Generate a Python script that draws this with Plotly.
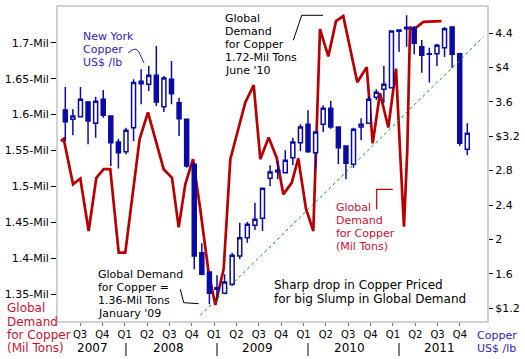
import plotly.graph_objects as go

# ---------------- data ----------------
# Monthly New York copper candles (US$/lb), index 0 = May 2007
candle_month = list(range(54))
candle_open = [3.505, 3.396, 3.427, 3.598, 3.350, 3.629, 3.435, 3.133, 3.020, 3.299,
               3.811, 3.803, 3.908, 3.543, 3.861, 3.590, 3.396, 2.873, 1.846, 1.621,
               1.439, 1.373, 1.478, 1.807, 2.020, 2.164, 2.245, 2.710, 2.803, 2.776,
               2.950, 3.125, 3.338, 3.009, 3.338, 3.524, 3.307, 3.086, 2.873, 3.307,
               3.350, 3.652, 3.745, 3.764, 4.419, 4.450, 4.462, 4.241, 4.152, 4.160,
               4.229, 4.470, 4.160, 3.047]
candle_high = [3.772, 3.512, 3.772, 3.609, 3.660, 3.737, 3.440, 3.171, 3.299, 3.861,
               3.978, 4.016, 4.249, 3.900, 4.074, 3.648, 3.400, 2.892, 1.954, 1.625,
               1.582, 1.594, 1.846, 2.195, 2.202, 2.427, 2.602, 2.861, 2.912, 3.036,
               3.183, 3.338, 3.501, 3.261, 3.559, 3.609, 3.310, 3.090, 3.299, 3.408,
               3.667, 3.745, 4.016, 4.431, 4.443, 4.605, 4.481, 4.319, 4.229, 4.276,
               4.470, 4.474, 4.171, 3.350]
candle_low = [3.144, 3.210, 3.420, 3.106, 3.183, 3.416, 2.854, 2.823, 2.989, 3.144,
              3.571, 3.726, 3.551, 3.481, 3.571, 3.202, 2.834, 1.652, 1.582, 1.245,
              1.303, 1.361, 1.458, 1.768, 1.962, 2.109, 2.098, 2.621, 2.698, 2.770,
              2.861, 3.028, 3.009, 2.823, 3.249, 3.288, 2.873, 2.698, 2.834, 3.152,
              3.346, 3.621, 3.590, 3.757, 4.183, 4.241, 4.152, 3.939, 3.823, 4.016,
              4.121, 3.997, 3.086, 2.978]
candle_close = [3.369, 3.435, 3.629, 3.377, 3.605, 3.443, 3.125, 3.009, 3.268, 3.823,
                3.838, 3.908, 3.598, 3.877, 3.695, 3.404, 2.854, 1.807, 1.594, 1.373,
                1.419, 1.505, 1.815, 2.020, 2.175, 2.233, 2.594, 2.784, 2.788, 2.919,
                3.133, 3.307, 3.020, 3.249, 3.524, 3.307, 3.067, 2.885, 3.280, 3.338,
                3.629, 3.710, 3.803, 4.423, 4.435, 4.466, 4.280, 4.140, 4.160, 4.257,
                4.450, 4.152, 3.117, 3.233]

# Global demand for copper (million tons)
demand_month = [-0.57, -0.21, 1.02, 1.98, 3.08, 4.09, 5.06, 5.93, 7.04, 7.91,
                9.8, 10.9, 12.97, 14.07, 14.95, 15.82, 16.84, 17.8, 18.9, 19.78,
                20.88, 21.76, 23.73, 24.84, 25.71, 26.81, 27.87, 28.74, 29.85, 30.72,
                31.73, 32.7, 33.58, 34.68, 35.69, 36.65, 38.5, 39.74, 40.53, 41.49,
                42.59, 43.6, 44.13, 44.65, 45.09, 45.45, 45.89, 47.2, 49.6]
demand_mil = [1.563, 1.566, 1.503, 1.511, 1.438, 1.512, 1.524, 1.524, 1.408, 1.408,
              1.566, 1.603, 1.524, 1.512, 1.443, 1.503, 1.538, 1.468, 1.380, 1.335,
              1.385, 1.538, 1.617, 1.641, 1.538, 1.568, 1.540, 1.489, 1.505, 1.539,
              1.469, 1.438, 1.719, 1.681, 1.730, 1.737, 1.645, 1.666, 1.560, 1.630,
              1.582, 1.664, 1.551, 1.444, 1.551, 1.722, 1.718, 1.729, 1.730]

# Trend line on copper price
trend_month = [17.8, 55.11]
trend_price = [1.117, 4.353]

# Axis labels
quarter_labels = ["Q3", "Q4", "Q1", "Q2", "Q3", "Q4", "Q1", "Q2", "Q3", "Q4",
                  "Q1", "Q2", "Q3", "Q4", "Q1", "Q2", "Q3", "Q4"]
year_labels = ["2007", "2008", "2009", "2010", "2011"]
year_label_pos = [3.52, 13.54, 25.4, 37.53, 49.4]
year_breaks = [8, 20, 32, 44]
left_ticks = [1.35, 1.4, 1.45, 1.5, 1.55, 1.6, 1.65, 1.7]
left_ticktext = ["1.35-Mil", "1.4-Mil", "1.45-Mil", "1.5-Mil", "1.55-Mil", "1.6-Mil", "1.65-Mil", "1.7-Mil"]
right_ticks = [1.2, 1.6, 2.0, 2.4, 2.8, 3.2, 3.6, 4.0, 4.4]
right_ticktext = ["$1.2", "1.6", "2", "2.4", "2.8", "$3.2", "3.6", "$4", "4.4"]

# ---------------- figure ----------------
W, H = 525, 359
L, R, T, B = 57, 37, 6, 37
PW, PH = W - L - R, H - T - B

def px(xp):
    return (xp - L) / PW

def py(yp):
    return (H - B - yp) / PH

FONT = "DejaVu Sans"
BLUE = "#0a0aa6"
RED = "#b80000"
LBLUE = "#3322bb"
LRED = "#cc1133"

fig = go.Figure()

fig.add_trace(go.Scatter(x=trend_month, y=trend_price, yaxis="y2", mode="lines",
                         line=dict(color="#119911", width=1, dash="dot"),
                         hoverinfo="skip", showlegend=False))

fig.add_trace(go.Candlestick(x=candle_month, open=candle_open, high=candle_high,
                             low=candle_low, close=candle_close, yaxis="y2",
                             increasing=dict(line=dict(color=BLUE, width=1.5), fillcolor="white"),
                             decreasing=dict(line=dict(color=BLUE, width=1.5), fillcolor=BLUE),
                             whiskerwidth=0, hoverinfo="skip", showlegend=False))

fig.add_trace(go.Scatter(x=demand_month, y=demand_mil, yaxis="y", mode="lines",
                         line=dict(color=RED, width=2.7), hoverinfo="skip", showlegend=False))

q0, qstep = 1.938, 2.9466
quarter_pos = [q0 + k * qstep for k in range(len(quarter_labels))]

fig.update_layout(
    width=W, height=H, autosize=False,
    margin=dict(l=L, r=R, t=T, b=B, pad=0, autoexpand=False),
    paper_bgcolor="white", plot_bgcolor="white",
    font=dict(family=FONT, size=11, color="black"),
    showlegend=False,
    boxgap=0.25,
    xaxis=dict(range=[-1.094, 55.73], tickmode="array", tickvals=quarter_pos,
               ticktext=quarter_labels, ticks="outside", ticklen=3, tickcolor="#777",
               tickfont=dict(size=10, color="black"), showgrid=False, zeroline=False,
               showline=False, rangeslider=dict(visible=False), fixedrange=True,
               automargin=False),
    yaxis=dict(range=[1.3114, 1.7511], tickmode="array", tickvals=left_ticks,
               ticktext=left_ticktext, ticks="outside", ticklen=5, tickcolor="black",
               tickfont=dict(size=11, color="black"), showgrid=False, zeroline=False,
               showline=False, automargin=False),
    yaxis2=dict(range=[1.0395, 4.714], overlaying="y", side="right", tickmode="array",
                tickvals=right_ticks, ticktext=right_ticktext, ticks="outside", ticklen=4,
                tickcolor="black", tickfont=dict(size=11, color="black"), showgrid=False,
                zeroline=False, showline=False, automargin=False),
)

# plot frame
fig.add_shape(type="rect", xref="paper", yref="paper", x0=0, x1=1, y0=0, y1=1,
              line=dict(color="#c4c4c4", width=1.5), layer="below")

def block(lines, x_px, y_px, color, size=11, step=13):
    for j, t in enumerate(lines):
        fig.add_annotation(x=px(x_px), y=py(y_px + j * step), xref="paper", yref="paper",
                           text=t, showarrow=False, xanchor="left", yanchor="middle",
                           font=dict(family=FONT, size=size, color=color))

def poly(points, color, width=1):
    d = "M " + " L ".join(f"{px(a):.5f},{py(b):.5f}" for a, b in points)
    fig.add_shape(type="path", xref="paper", yref="paper", path=d,
                  line=dict(color=color, width=width))

block(["New York", "Copper", "US$ /lb"], 81, 37, LBLUE)
poly([(128, 53), (132, 50), (136, 49), (139, 52), (144, 63)], LBLUE)

block(["Global", "Demand", "for Copper", "1.72-Mil Tons", "June '10"], 223, 18.3, "black")
poly([(323, 15.3), (301.7, 15.3), (293.3, 40.3)], "black")

block(["Global Demand", "for Copper =", "1.36-Mil Tons", "January '09"], 96, 274.3, "black")
poly([(180.3, 289.3), (183.7, 302.7), (198.7, 303.7)], "black")

block(["Global", "Demand", "for Copper", "(Mil Tons)"], 334, 207, LRED)
poly([(392.7, 189.3), (376.7, 189.3), (376.7, 209.3)], RED, 1.2)

block(["Sharp drop in Copper Priced", "for big Slump in Global Demand"], 271.5, 285.3, "black", size=12, step=14)

block(["Global", "Demand", "for Copper", "(Mil Tons)"], 5, 308.3, LRED, size=12, step=13.3)
block(["Copper", "US$ /lb"], 475, 335, LBLUE, size=11, step=13)

for xp_, t in zip(year_label_pos, year_labels):
    fig.add_annotation(x=xp_, y=py(348), xref="x", yref="paper", text=t, showarrow=False,
                       xanchor="center", yanchor="middle",
                       font=dict(family=FONT, size=12, color="black"))
for xb in year_breaks:
    fig.add_shape(type="line", xref="x", yref="paper", x0=xb, x1=xb, y0=py(343), y1=py(356),
                  line=dict(color="black", width=1))

fig.write_html("out.html", config={"displayModeBar": False},
               post_script="document.body.style.margin='0';document.body.style.padding='0';")
